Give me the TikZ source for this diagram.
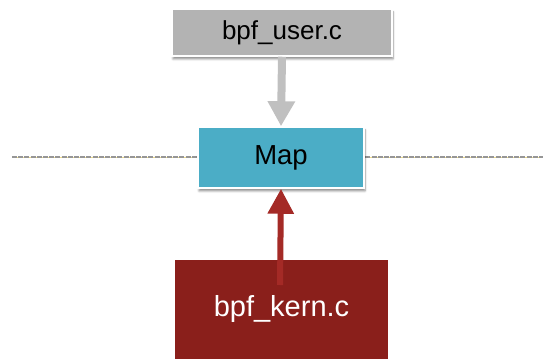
\documentclass[tikz,border=0pt]{standalone}
\usepackage{fontspec}
\setmainfont{Liberation Sans}
\usetikzlibrary{arrows.meta,shadows.blur}
\definecolor{usergray}{HTML}{B3B3B3}
\definecolor{arrowgray}{HTML}{C0C0C0}
\definecolor{mapblue}{HTML}{4BADC6}
\definecolor{kernred}{HTML}{8A1F1B}
\definecolor{arrowred}{HTML}{A42A26}
\definecolor{dashgray}{HTML}{969696}
\definecolor{dashyellow}{HTML}{EEDC8A}
\tikzset{
  boxnode/.style={draw=white, line width=1.5pt, inner sep=0pt, align=center,
    blur shadow={shadow blur steps=6, shadow xshift=1pt, shadow yshift=-3pt, shadow opacity=45}},
  grayarrow/.style={draw=arrowgray, line width=8pt, -{Triangle[length=25pt,width=26pt]}},
  redarrow/.style={draw=arrowred, line width=6pt, -{Triangle[length=25pt,width=25pt]}},
}
\begin{document}
\begin{tikzpicture}[x=1pt,y=1pt]
\useasboundingbox (0,0) rectangle (543,359);
% dashed separator
\coordinate (dl) at (12,202);
\coordinate (dr) at (543,202);
\draw[dashyellow, line width=0.8pt] (dl) -- (dr);
\draw[dashgray, line width=1.5pt, dash pattern=on 5pt off 1.2pt] (dl) -- (dr);
% boxes
\node[boxnode, fill=usergray, minimum width=220pt, minimum height=47pt,
      font=\fontsize{26}{30}\selectfont] (user) at (282,326.5) {bpf\_user.c};
\node[boxnode, fill=mapblue, minimum width=166pt, minimum height=61pt,
      font=\fontsize{27.5}{31}\selectfont] (map) at (281,201.5) {Map};
\node[draw=white, line width=1.5pt, inner sep=0pt, fill=kernred, text=white,
      minimum width=215pt, minimum height=100pt,
      font=\fontsize{29}{33}\selectfont] (kern) at (281.5,49.5) {\raisebox{-2pt}{bpf\_kern.c}};
% arrows
\coordinate (ks) at (280,74);
\draw[grayarrow] (user.south) -- (map.north);
\draw[redarrow] (ks) -- (map.south);
\end{tikzpicture}
\end{document}
